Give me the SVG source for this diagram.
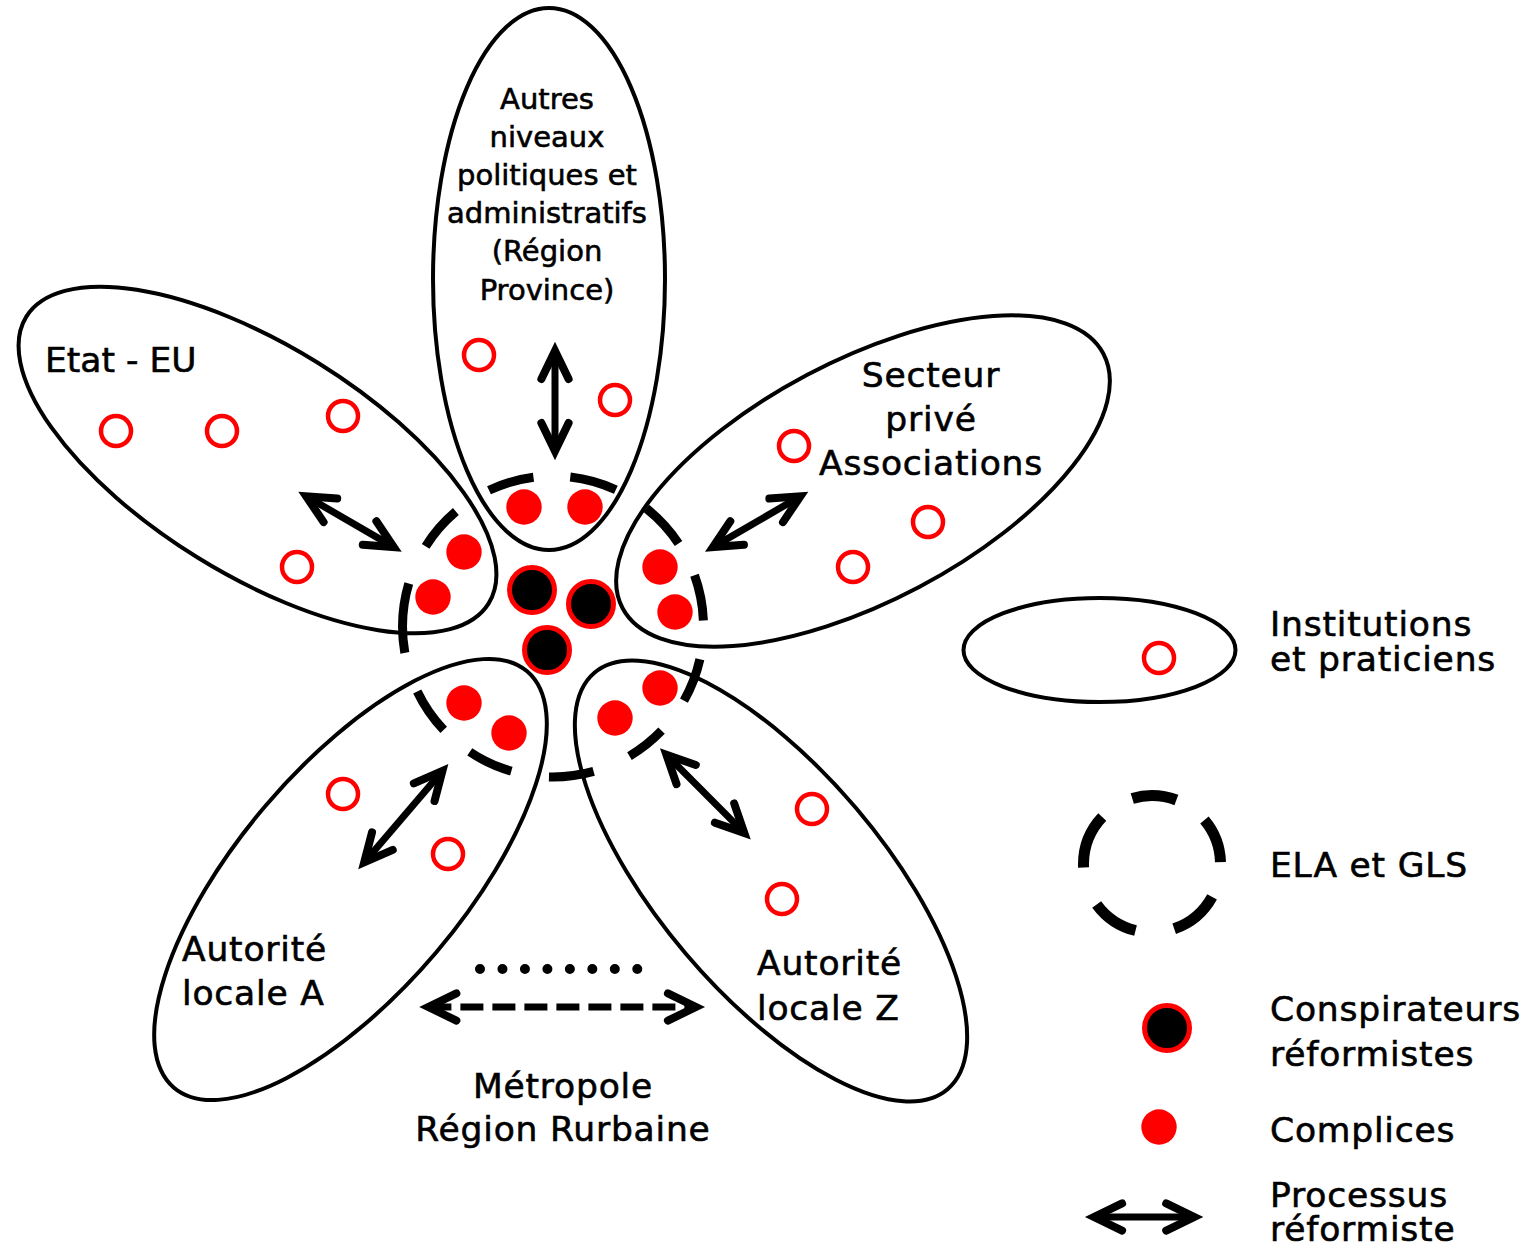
<svg xmlns="http://www.w3.org/2000/svg" width="1530" height="1247" viewBox="0 0 1530 1247">
<style>
.petal{fill:none;stroke:#000;stroke-width:4}
.inst{fill:none;stroke:#f00;stroke-width:4.5}
.comp{fill:#f00;stroke:none}
.consp{fill:#000;stroke:#f00;stroke-width:5}
.arr{fill:none;stroke:#000;stroke-width:7;marker-start:url(#ah);marker-end:url(#ah)}
.lbl{font-family:"DejaVu Sans",Verdana,sans-serif;font-size:34.5px;letter-spacing:0.8px;fill:#000;stroke:#000;stroke-width:0.6}
.top{font-size:29px;letter-spacing:0;text-anchor:middle}
.mid{text-anchor:middle}
</style>
<defs>
<marker id="ah" markerUnits="userSpaceOnUse" orient="auto-start-reverse" overflow="visible" refX="0" refY="0" markerWidth="1" markerHeight="1">
<path d="M-28,-13.6 L0,0 L-28,13.6" fill="none" stroke="#000" stroke-width="8" stroke-linecap="round" stroke-linejoin="miter" stroke-dasharray="none"/>
</marker>
</defs>
<rect width="1530" height="1247" fill="#fff"/>

<g id="petal-top">
<ellipse class="petal" cx="549" cy="279" rx="116" ry="271"/>
<text class="lbl top"><tspan x="547" y="109">Autres</tspan><tspan x="547" y="147">niveaux</tspan><tspan x="547" y="185">politiques et</tspan><tspan x="547" y="223">administratifs</tspan><tspan x="547" y="261">(Région</tspan><tspan x="547" y="300">Province)</tspan></text>
<circle class="inst" cx="479" cy="355" r="15"/>
<circle class="inst" cx="615" cy="400" r="15"/>
</g>

<g id="petal-etat">
<ellipse class="petal" cx="257.5" cy="460" rx="272" ry="114.5" transform="rotate(31.8 257.5 460)"/>
<text class="lbl" x="45" y="372" style="letter-spacing:0">Etat - EU</text>
<circle class="inst" cx="116" cy="431" r="15"/>
<circle class="inst" cx="222" cy="431" r="15"/>
<circle class="inst" cx="343" cy="416" r="15"/>
<circle class="inst" cx="297" cy="567" r="15"/>
</g>

<g id="petal-secteur">
<ellipse class="petal" cx="863" cy="481" rx="272" ry="120" transform="rotate(-27.9 863 481)"/>
<text class="lbl mid"><tspan x="931" y="387">Secteur</tspan><tspan x="931" y="431">privé</tspan><tspan x="931" y="475">Associations</tspan></text>
<circle class="inst" cx="794" cy="446" r="15"/>
<circle class="inst" cx="928" cy="522" r="15"/>
<circle class="inst" cx="853" cy="567" r="15"/>
</g>

<g id="petal-a">
<ellipse class="petal" cx="350.5" cy="879.5" rx="273" ry="112.5" transform="rotate(-49.7 350.5 879.5)"/>
<text class="lbl"><tspan x="182" y="961">Autorité</tspan><tspan x="182" y="1005">locale A</tspan></text>
<circle class="inst" cx="343" cy="794" r="15"/>
<circle class="inst" cx="448" cy="854" r="15"/>
</g>

<g id="petal-z">
<ellipse class="petal" cx="771" cy="881" rx="273" ry="112" transform="rotate(49.7 771 881)"/>
<text class="lbl"><tspan x="757" y="975">Autorité</tspan><tspan x="757" y="1020">locale Z</tspan></text>
<circle class="inst" cx="812" cy="809" r="15"/>
<circle class="inst" cx="782" cy="899" r="15"/>
</g>

<g id="ela-gls">
<path d="M703.5,626.5 A150.5,150.5 0 1 1 402.5,626.5 A150.5,150.5 0 1 1 703.5,626.5" fill="none" stroke="#000" stroke-width="9" stroke-dasharray="44.4 37.6 41 39.1 45.2 38.1 46 34.1 46.8 40.7 70.1 41 46.2 39.4 46.5 37 47.5 35.7 47.8 35.7 46.2 39.4" stroke-dashoffset="-33.1"/>
</g>

<g id="complices">
<circle class="comp" cx="524" cy="507" r="17.7"/>
<circle class="comp" cx="585" cy="507" r="17.7"/>
<circle class="comp" cx="464" cy="552" r="17.7"/>
<circle class="comp" cx="433" cy="597" r="17.7"/>
<circle class="comp" cx="660" cy="567" r="17.7"/>
<circle class="comp" cx="675" cy="612" r="17.7"/>
<circle class="comp" cx="464" cy="703" r="17.7"/>
<circle class="comp" cx="509" cy="733" r="17.7"/>
<circle class="comp" cx="660" cy="688" r="17.7"/>
<circle class="comp" cx="615" cy="718" r="17.7"/>
</g>

<g id="conspirateurs">
<circle class="consp" cx="532" cy="590" r="22.5"/>
<circle class="consp" cx="591" cy="604" r="22.5"/>
<circle class="consp" cx="547" cy="650" r="22.5"/>
</g>

<g id="metropole">
<text class="lbl mid"><tspan x="563" y="1098">Métropole</tspan><tspan x="563" y="1141">Région Rurbaine</tspan></text>
</g>

<g id="connectors">
<line class="arr" x1="555" y1="351" x2="555" y2="451"/>
<line class="arr" x1="306.2" y1="496.3" x2="393.8" y2="547.1"/>
<line class="arr" x1="800.4" y1="496.3" x2="712.9" y2="547.1"/>
<line class="arr" x1="442.4" y1="770.9" x2="364.2" y2="862.4"/>
<line class="arr" x1="666.4" y1="754.7" x2="744.3" y2="832.9"/>
<line class="arr" x1="428.4" y1="1007" x2="695.9" y2="1007" stroke-width="8" stroke-dasharray="23 9"/>
<line x1="480" y1="969" x2="637.3" y2="969" stroke="#000" stroke-width="10" stroke-linecap="round" stroke-dasharray="0 22.47"/>
</g>

<g id="legend-institutions">
<ellipse class="petal" cx="1099.5" cy="650" rx="136" ry="52"/>
<circle class="inst" cx="1159" cy="658" r="15"/>
<text class="lbl"><tspan x="1270" y="636">Institutions</tspan><tspan x="1270" y="671">et praticiens</tspan></text>
</g>

<g id="legend-ela">
<path d="M1220.5,864 A68.5,68.5 0 1 1 1083.5,864 A68.5,68.5 0 1 1 1220.5,864" fill="none" stroke="#000" stroke-width="11" stroke-dasharray="50.5 39.3 47.6 39.5 55.5 35.5 45 34.7 45.8 37.2" stroke-dashoffset="-34.3"/>
<text class="lbl" x="1270" y="877">ELA et GLS</text>
</g>

<g id="legend-consp">
<circle class="consp" cx="1167" cy="1028" r="22.5"/>
<text class="lbl"><tspan x="1270" y="1021">Conspirateurs</tspan><tspan x="1270" y="1066">réformistes</tspan></text>
</g>

<g id="legend-comp">
<circle class="comp" cx="1159" cy="1127" r="17.7"/>
<text class="lbl" x="1270" y="1142">Complices</text>
</g>

<g id="legend-arrow">
<line class="arr" x1="1094.1" y1="1217" x2="1194.2" y2="1217"/>
<text class="lbl"><tspan x="1270" y="1207">Processus</tspan><tspan x="1270" y="1241">réformiste</tspan></text>
</g>
</svg>
